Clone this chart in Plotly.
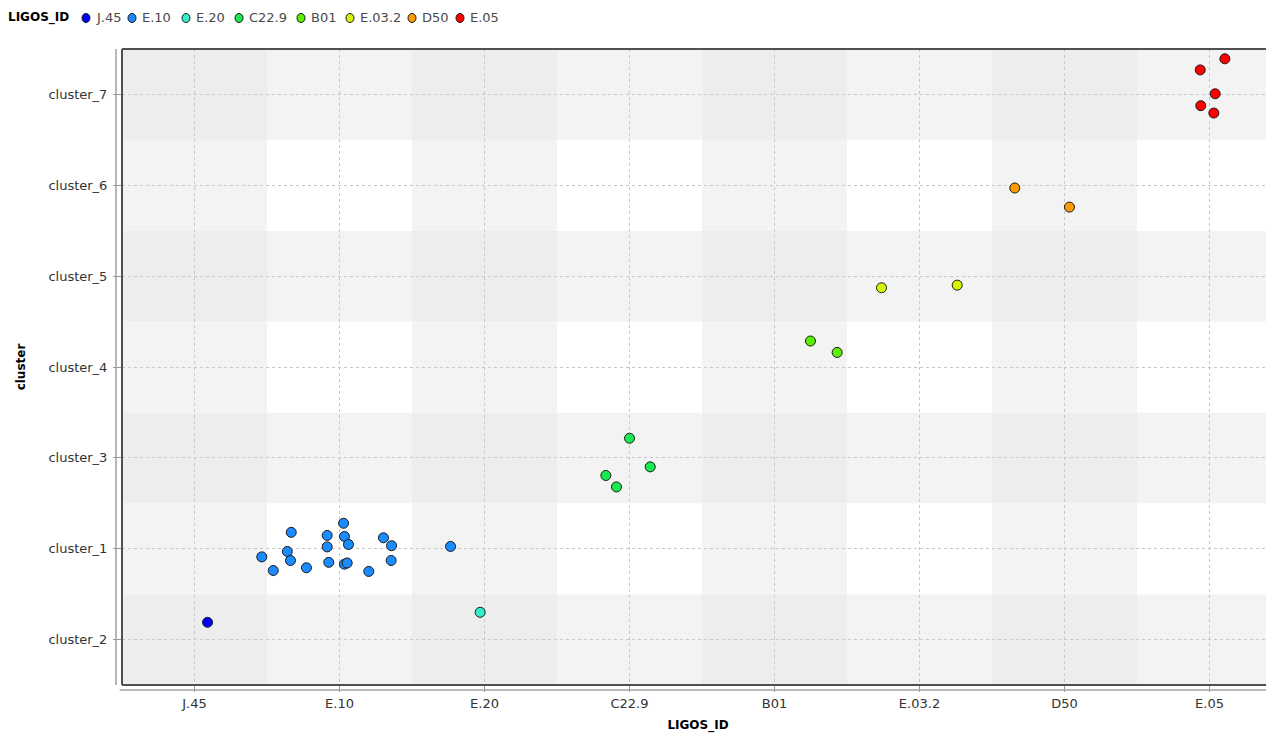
import plotly.graph_objects as go

# ---------------- data ----------------
ligos_ids = ["J.45", "E.10", "E.20", "C22.9", "B01", "E.03.2", "D50", "E.05"]
clusters = ["cluster_2", "cluster_1", "cluster_3", "cluster_4", "cluster_5", "cluster_6", "cluster_7"]
ligos_colors = ["#0000ff", "#1a8cff", "#33f0cc", "#17eb4f", "#5cf000", "#d8f500", "#ff9a00", "#ff0000"]

# one entry per point: LIGOS_ID, cluster, horizontal jitter, vertical jitter
point_ligos = (["J.45"] + ["E.10"] * 19 + ["E.20"] + ["C22.9"] * 4 + ["B01"] * 2
               + ["E.03.2"] * 2 + ["D50"] * 2 + ["E.05"] * 5)
point_cluster = (["cluster_2"] + ["cluster_1"] * 19 + ["cluster_2"] + ["cluster_3"] * 4
                 + ["cluster_4"] * 2 + ["cluster_5"] * 2 + ["cluster_6"] * 2 + ["cluster_7"] * 5)
point_jitter_x = [0.09,
                  -0.536, -0.457, -0.36, -0.338, -0.333, -0.228, -0.085, -0.085, -0.074, 0.028,
                  0.034, 0.062, 0.034, 0.053, 0.202, 0.303, 0.359, 0.356, 0.766,
                  -0.03,
                  0.0, -0.163, -0.09, 0.143,
                  0.248, 0.432,
                  -0.262, 0.26,
                  -0.343, 0.034,
                  0.106, -0.064, 0.039, -0.06, 0.03]
point_jitter_y = [0.19,
                  -0.09, -0.24, -0.03, -0.13, 0.18, -0.21, 0.146, 0.02, -0.15, 0.28,
                  0.135, 0.047, -0.17, -0.157, -0.25, 0.12, 0.033, -0.13, 0.025,
                  0.30,
                  0.216, -0.194, -0.32, -0.099,
                  0.286, 0.16,
                  -0.128, -0.099,
                  -0.03, -0.24,
                  0.392, 0.27, 0.007, -0.124, -0.205]

# ---------------- layout constants ----------------
PAGE_OFF = 8                      # default page body margin
W, H = 1274 - PAGE_OFF, 733 - PAGE_OFF
ML, MR, MT, MB = 122 - PAGE_OFF, 0, 49 - PAGE_OFF, 48
PX_PER_CAT = 145.0
plot_w = W - ML - MR
plot_h = H - MT - MB
x_range = [-0.5, -0.5 + plot_w / PX_PER_CAT]
y_range = [-0.5, len(clusters) - 0.5]
FONT = "DejaVu Sans"


def page_x(px):
    return (px - PAGE_OFF - ML) / plot_w


def page_y(py):
    return (H - MB - (py - PAGE_OFF)) / plot_h


fig = go.Figure()

for lid, col in zip(ligos_ids, ligos_colors):
    xs, ys = [], []
    for pl, pc, jx, jy in zip(point_ligos, point_cluster, point_jitter_x, point_jitter_y):
        if pl == lid:
            xs.append(ligos_ids.index(pl) + jx)
            ys.append(clusters.index(pc) + jy)
    fig.add_trace(go.Scatter(
        x=xs, y=ys, mode="markers", name=lid, showlegend=False,
        marker=dict(size=10, color=col, line=dict(color="#1a1a1a", width=1)),
        hovertemplate=lid + "<extra></extra>",
    ))

shapes = []
# checkerboard background
shade = {0: "#ffffff", 1: "#f3f3f3", 2: "#ededed"}
for ci in range(len(ligos_ids)):
    for ri in range(len(clusters)):
        level = (1 if ci % 2 == 0 else 0) + (1 if ri % 2 == 0 else 0)
        shapes.append(dict(type="rect", xref="x", yref="y", layer="below",
                           x0=ci - 0.5, x1=ci + 0.5, y0=ri - 0.5, y1=ri + 0.5,
                           line=dict(width=0), fillcolor=shade[level]))

# plot frame (top, left, bottom)
frame = dict(color="#505050", width=2)
shapes.append(dict(type="line", xref="paper", yref="paper", x0=0, x1=1, y0=1, y1=1, line=frame))
shapes.append(dict(type="line", xref="paper", yref="paper", x0=0, x1=0, y0=0, y1=1, line=frame))
shapes.append(dict(type="line", xref="paper", yref="paper", x0=0, x1=1, y0=0, y1=0, line=frame))
# offset axis lines
axis_line = dict(color="#a0a0a0", width=1.5)
shapes.append(dict(type="line", xref="paper", yref="paper", xsizemode="pixel", xanchor=0,
                   x0=-6, x1=-6, y0=0, y1=1, line=axis_line))
shapes.append(dict(type="line", xref="paper", yref="paper", ysizemode="pixel", yanchor=0,
                   x0=-0.002, x1=1, y0=-5, y1=-5, line=axis_line))

annotations = []
# custom legend (positions in page pixels)
LEG_Y_PX = 18
legend_title_x_px = 6
legend_marker_x_px = [86, 132, 186, 239, 301, 350, 412, 460]
ly = page_y(LEG_Y_PX)
annotations.append(dict(text="<b>LIGOS_ID</b>", xref="paper", yref="paper",
                        x=page_x(legend_title_x_px), y=ly, xanchor="left", yanchor="middle",
                        showarrow=False, font=dict(family=FONT, size=12, color="#000000")))
for lid, col, mx in zip(ligos_ids, ligos_colors, legend_marker_x_px):
    xp = page_x(mx)
    shapes.append(dict(type="circle", xref="paper", yref="paper",
                       xsizemode="pixel", ysizemode="pixel", xanchor=xp, yanchor=ly,
                       x0=-4, x1=4, y0=-4.5, y1=4.5, fillcolor=col,
                       line=dict(color="#1a1a1a", width=1)))
    annotations.append(dict(text=lid, xref="paper", yref="paper",
                            x=page_x(mx + 8), y=ly, xanchor="left", yanchor="middle",
                            showarrow=False, font=dict(family=FONT, size=13, color="#4a4a4a")))

fig.update_layout(
    width=W, height=H,
    margin=dict(l=ML, r=MR, t=MT, b=MB, pad=0),
    paper_bgcolor="#ffffff", plot_bgcolor="#ffffff",
    font=dict(family=FONT, size=13, color="#333333"),
    shapes=shapes, annotations=annotations, showlegend=False,
    xaxis=dict(
        range=x_range, tickmode="array", tickvals=list(range(len(ligos_ids))), ticktext=ligos_ids,
        showgrid=True, gridcolor="#c8c8c8", griddash="dot", gridwidth=1,
        zeroline=False, showline=False, ticks="outside", ticklen=6, tickcolor="#999999",
        tickfont=dict(family=FONT, size=13, color="#333333"), ticklabelstandoff=0,
        title=dict(text="<b>LIGOS_ID</b>", font=dict(family=FONT, size=12, color="#000000"), standoff=13),
        automargin=False, fixedrange=True,
    ),
    yaxis=dict(
        range=y_range, tickmode="array", tickvals=list(range(len(clusters))), ticktext=clusters,
        showgrid=True, gridcolor="#c8c8c8", griddash="dot", gridwidth=1,
        zeroline=False, showline=False, ticks="outside", ticklen=8, tickcolor="#999999",
        tickfont=dict(family=FONT, size=13, color="#333333"), ticklabelstandoff=3,
        title=dict(text="<b>cluster</b>", font=dict(family=FONT, size=12, color="#000000"), standoff=20),
        automargin=False, fixedrange=True,
    ),
)

fig.write_html("out.html")
